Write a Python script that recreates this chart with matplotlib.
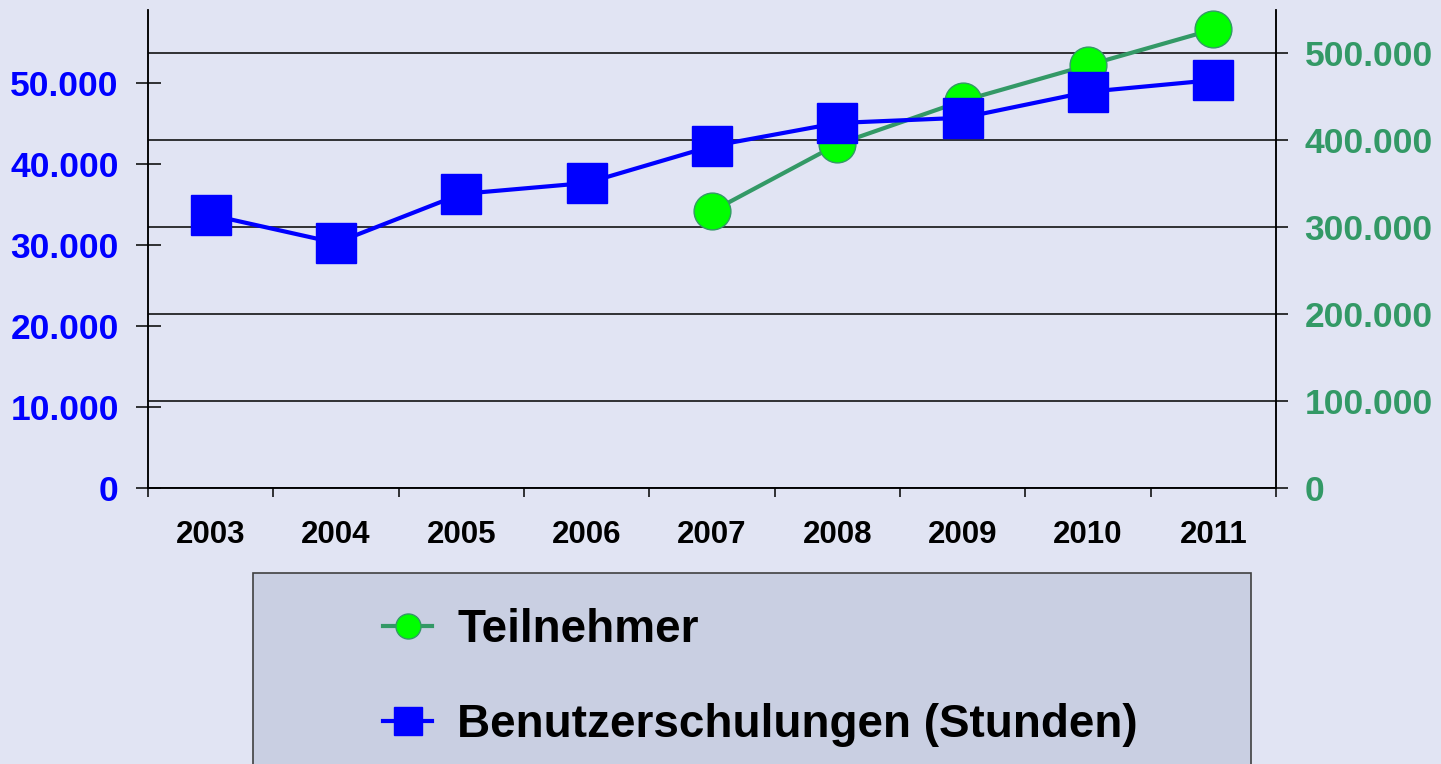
import matplotlib.pyplot as plt
from matplotlib.patches import Rectangle
from matplotlib.ticker import FuncFormatter

plt.rcParams['font.family'] = ['Liberation Sans', 'DejaVu Sans']
plt.rcParams['font.weight'] = 'bold'

years = ["2003", "2004", "2005", "2006", "2007", "2008", "2009", "2010", "2011"]
# Benutzerschulungen (Stunden) - left axis
stunden = [33700, 30250, 36300, 37650, 42200, 45050, 45700, 48900, 50350]
# Teilnehmer - right axis, starting 2007
tn_years = ["2007", "2008", "2009", "2010", "2011"]
teilnehmer = [318000, 395000, 445000, 486000, 527000]

bg = "#E1E4F3"
blue = "#0000FF"
green = "#339966"


def de_fmt(v, pos):
    return f"{int(round(v)):,}".replace(",", ".")


fig = plt.figure(figsize=(14.41, 7.64), dpi=100, facecolor=bg)
ax = fig.add_axes([148 / 1441, 1 - 488 / 764, (1276 - 148) / 1441, (488 - 10) / 764])
ax2 = ax.twinx()
ax.set_zorder(ax2.get_zorder() + 1)
ax.patch.set_visible(False)
ax2.set_facecolor(bg)

xs = list(range(len(years)))
tn_x = [years.index(y) for y in tn_years]

ax2.plot(tn_x, teilnehmer, color=green, lw=3, marker="o", ms=26.5,
         mfc="#00FF00", mec=green, mew=1, label="Teilnehmer")
ax.plot(xs, stunden, color=blue, lw=3, marker="s", ms=29,
        mfc=blue, mec=blue, label="Benutzerschulungen (Stunden)")

ax.set_xlim(-0.5, len(years) - 0.5)
ax.set_ylim(0, 59000)
ax2.set_ylim(0, 549400)

ax.set_yticks(range(0, 50001, 10000))
ax2.set_yticks(range(0, 500001, 100000))
ax.yaxis.set_major_formatter(FuncFormatter(de_fmt))
ax2.yaxis.set_major_formatter(FuncFormatter(de_fmt))
ax2.yaxis.grid(True, color="black", lw=1.1)
ax2.set_axisbelow(True)

ax.set_xticks([i - 0.5 for i in range(len(years) + 1)])
ax.set_xticklabels([])
ax.set_xticks(xs, minor=True)
ax.set_xticklabels(years, minor=True)
ax.tick_params(axis="x", which="major", direction="out", length=6.5, width=1.1)
ax.tick_params(axis="x", which="minor", length=0, pad=23, labelsize=22.5, labelcolor="black")
ax.tick_params(axis="y", direction="inout", length=18, width=1.1, pad=12,
               labelsize=25.5, labelcolor=blue)
ax2.tick_params(axis="y", direction="out", length=8.6, width=1.1, pad=12,
                labelsize=25.5, labelcolor=green)
ax2.tick_params(axis="x", which="both", length=0)

for a in (ax, ax2):
    a.spines["top"].set_visible(False)
    for s in ("left", "right", "bottom"):
        a.spines[s].set_linewidth(1.1)

# legend box running off the bottom edge
fig.patches.append(Rectangle((253 / 1441, -0.1), (1251 - 253) / 1441, 0.1 + (764 - 573) / 764,
                             transform=fig.transFigure, facecolor="#C9CFE2",
                             edgecolor="#404040", lw=1.2, zorder=0))

h1, l1 = ax2.get_legend_handles_labels()
h2, l2 = ax.get_legend_handles_labels()
fig.legend(h1 + h2, l1 + l2, loc="upper left", bbox_to_anchor=(383 / 1441, 1 - 608 / 764),
           frameon=False, fontsize=33, markerscale=0.68, handlelength=1.07,
           handletextpad=0.55, labelspacing=1.11, borderaxespad=0, borderpad=0)

fig.savefig("out.png", dpi=100, facecolor=bg)
